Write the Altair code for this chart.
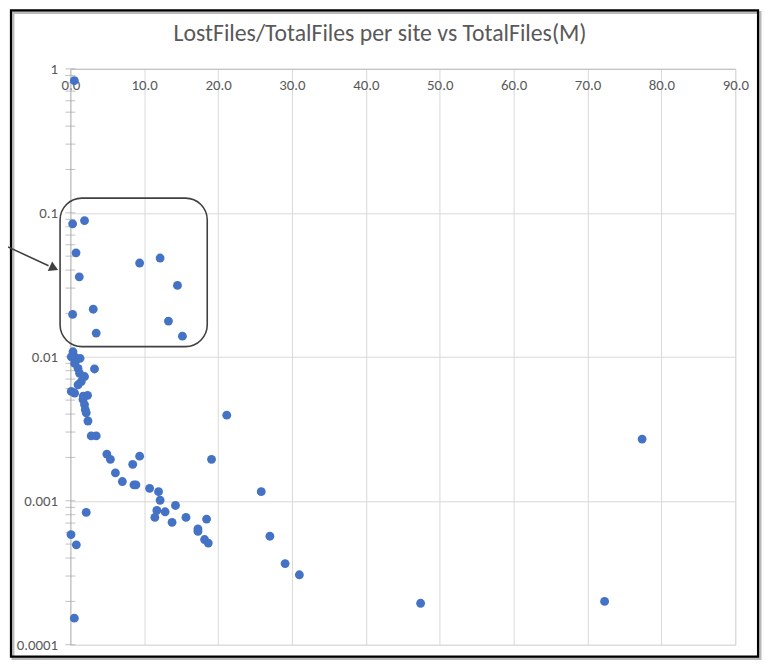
import altair as alt
import pandas as pd

# ---- data ----
total_files_m = [0.54, 0.31, 1.92, 0.77, 1.21, 9.38, 12.15, 14.50, 3.10, 0.31, 13.28, 3.50, 15.17,
                 0.36, 0.58, 0.13, 0.81, 1.31, 0.58, 1.04, 3.27, 1.25, 1.92, 1.48, 1.04, 0.13, 0.58,
                 1.75, 2.33, 1.71, 1.92, 2.02, 2.15, 2.38, 2.83, 3.50,
                 4.94, 5.42, 9.38, 8.44, 6.10, 7.04, 8.61, 8.88, 10.73, 11.94, 12.15, 14.23, 11.71,
                 12.83, 11.44, 13.77, 15.65, 18.44, 17.27, 17.27, 18.17, 18.67, 2.15, 0.09, 0.81,
                 0.54, 21.17, 19.11, 25.84, 27.01, 29.07, 31.0, 47.41, 72.31, 77.39]
lost_ratio = [0.827, 0.0838, 0.0883, 0.0527, 0.0359, 0.0448, 0.0485, 0.0313, 0.0214, 0.0197, 0.0177,
              0.0146, 0.0139,
              0.01083, 0.0100, 0.0100, 0.00949, 0.00975, 0.00899, 0.00831, 0.00823, 0.00768, 0.00729,
              0.00673, 0.00639, 0.00575, 0.00560, 0.00533, 0.00540, 0.00504, 0.00466, 0.00430,
              0.00408, 0.00358, 0.00282, 0.00282,
              0.00211, 0.00194, 0.00204, 0.00179, 0.00156, 0.00136, 0.00129, 0.00129, 0.00122,
              0.001157, 0.001008, 0.000927, 0.000856, 0.000838, 0.000766, 0.000708, 0.000766,
              0.000746, 0.000637, 0.000612, 0.000538, 0.000508, 0.000830, 0.000582, 0.000494,
              0.000153, 0.00393, 0.00194, 0.001157, 0.000567, 0.000366, 0.000306, 0.000194,
              0.000200, 0.00268]

x_ticks = [0, 10, 20, 30, 40, 50, 60, 70, 80, 90]
y_major = [0.0001, 0.001, 0.01, 0.1, 1]
y_minor = [m * d for d in [0.0001, 0.001, 0.01, 0.1] for m in range(1, 10)] + [1]

# highlight box (data coordinates)
box_x = [-1.39]
box_x2 = [18.53]
box_y = [0.1264]
box_y2 = [0.01177]

TITLE = "LostFiles/TotalFiles per site vs TotalFiles(M)"
FONT = "Carlito, Calibri, Lato"
GRID = "#d9d9d9"
AXIS_LINE = "#bfbfbf"
TEXT = "#595959"

W, H = 672, 582

df = pd.DataFrame({"TotalFiles": total_files_m, "Ratio": lost_ratio})
box_df = pd.DataFrame({"x": box_x, "x2": box_x2, "y": box_y, "y2": box_y2})
tick_df = pd.DataFrame({"Ratio": y_minor})
one = pd.DataFrame({"a": [0]})

x_scale = alt.Scale(domain=[0, 90], nice=False, zero=False)
y_scale = alt.Scale(type="log", domain=[0.0001, 1], nice=False)

x_axis = alt.Axis(orient="top", values=x_ticks, format=".1f", title=None, grid=True,
                  gridColor=GRID, domainColor=AXIS_LINE, ticks=False,
                  labelPadding=-9, labelBaseline="top", labelFont=FONT, labelFontSize=15,
                  labelColor=TEXT, labelFlush=False)
y_axis = alt.Axis(values=y_major, format="~g", title=None, grid=True, gridColor=GRID,
                  domainColor=AXIS_LINE, ticks=False, labelPadding=13, labelFont=FONT,
                  labelFontSize=15, labelColor=TEXT, labelFlush=False)

box = alt.Chart(box_df).mark_rect(fillOpacity=0, stroke="#404040", strokeWidth=1.6,
                                  cornerRadius=22, clip=False).encode(
    x=alt.X("x:Q", scale=x_scale, axis=x_axis),
    x2="x2:Q",
    y=alt.Y("y:Q", scale=y_scale, axis=y_axis),
    y2="y2:Q",
)

frame_shadow = alt.Chart(one).mark_rect(fillOpacity=0, stroke="#8c8c8c", strokeWidth=3,
                                        strokeOpacity=0.6, clip=False).encode(
    x=alt.value(-58), x2=alt.value(697), y=alt.value(-57), y2=alt.value(596))
frame = alt.Chart(one).mark_rect(fillOpacity=0, stroke="#000000", strokeWidth=2.2,
                                 clip=False).encode(
    x=alt.value(-60), x2=alt.value(695), y=alt.value(-59), y2=alt.value(594))

title = alt.Chart(one).mark_text(text=TITLE, font=FONT, fontSize=24, color=TEXT,
                                 align="center", baseline="alphabetic", clip=False).encode(
    x=alt.value(313), y=alt.value(-28))

arrow_line = alt.Chart(one).mark_rule(color="#404040", strokeWidth=1.6, clip=False).encode(
    x=alt.value(-63), x2=alt.value(-22), y=alt.value(180), y2=alt.value(199))
arrow_head = alt.Chart(one).mark_point(shape="triangle-right", filled=True, color="#404040",
                                       opacity=1, size=110, angle=25, clip=False).encode(
    x=alt.value(-16.5), y=alt.value(201.5))

minor_ticks = alt.Chart(tick_df).mark_tick(orient="horizontal", color="#a6a6a6", size=10,
                                            thickness=1, clip=False).encode(
    x=alt.value(0),
    y=alt.Y("Ratio:Q", scale=y_scale, axis=y_axis),
)

points = alt.Chart(df).mark_circle(size=80, color="#4472C4", opacity=1).encode(
    x=alt.X("TotalFiles:Q", scale=x_scale, axis=x_axis),
    y=alt.Y("Ratio:Q", scale=y_scale, axis=y_axis),
)

chart = alt.layer(frame_shadow, frame, title, box, arrow_line, arrow_head, minor_ticks,
                  points).properties(
    width=W, height=H,
    autosize=alt.AutoSizeParams(type="none"),
    padding={"left": 63, "top": 58, "right": 27, "bottom": 15},
).configure_view(stroke=None).configure(background="white")

chart.save("out.html", embed_options={"renderer": "svg", "actions": False})
